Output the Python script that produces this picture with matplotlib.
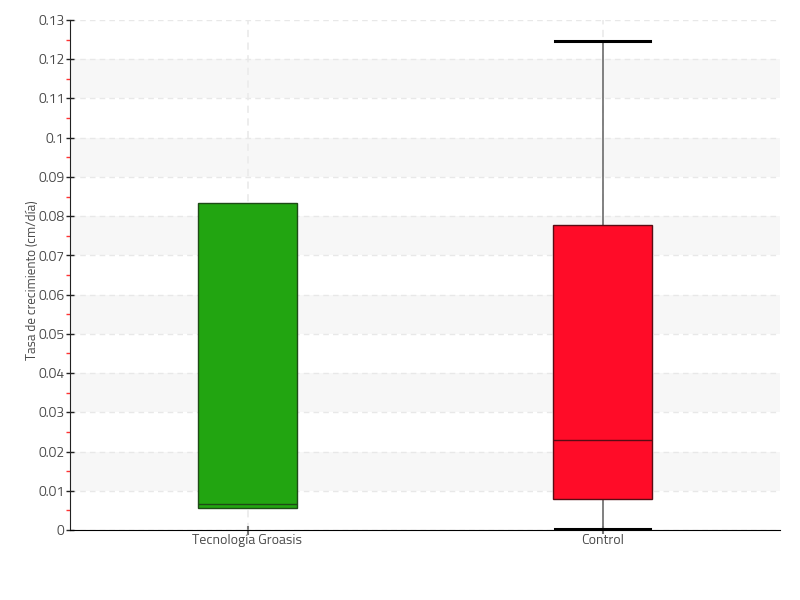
import numpy as np
import matplotlib
matplotlib.use('Agg')
import matplotlib.pyplot as plt
from matplotlib import font_manager

# ---- data ----
categories = ['Tecnología Groasis', 'Control']
q1 = [0.0056, 0.0079]
med = [0.0066, 0.0229]
q3 = [0.0834, 0.0777]
whislo = [0.0056, 0.0003]
whishi = [0.0834, 0.1246]
colors = ['#22a511', '#ff0c28']
edge_colors = ['#1e4a16', '#5a0c14']

yticks = np.round(np.arange(0, 0.131, 0.01), 2)
ytick_labels = ['0'] + ['%g' % v for v in yticks[1:]]

have = set(f.name for f in font_manager.fontManager.ttflist)
fam = [f for f in ['Titillium Web', 'Roboto Condensed', 'DejaVu Sans'] if f in have]
plt.rcParams['font.family'] = fam

fig = plt.figure(figsize=(8, 6), dpi=100)
ax = fig.add_axes([0.0875, 0.1167, 0.8875, 0.85])

stats = []
for i in range(len(categories)):
    stats.append(dict(q1=q1[i], med=med[i], q3=q3[i],
                      whislo=whislo[i], whishi=whishi[i], fliers=[]))

pos = np.arange(len(categories))
bp = ax.bxp(stats, positions=pos, widths=0.28, patch_artist=True,
            showfliers=False, manage_ticks=False)

for box, c, ec in zip(bp['boxes'], colors, edge_colors):
    box.set_facecolor(c)
    box.set_edgecolor(ec)
    box.set_linewidth(1.0)
    box.set_zorder(4)
for m, ec in zip(bp['medians'], edge_colors):
    m.set_color(ec)
    m.set_linewidth(1.0)
    m.set_zorder(5)
for w in bp['whiskers']:
    w.set_color('#777777')
    w.set_linewidth(1.3)
    w.set_zorder(3)
for i, cap in enumerate(bp['caps']):
    cap.set_color('black')
    cap.set_linewidth(2.2)
    cap.set_zorder(3)
    xd = cap.get_xdata()
    mid = (xd[0] + xd[1]) / 2.0
    cap.set_xdata([mid - 0.135, mid + 0.135])
    k = i // 2
    # no whisker when it coincides with the box edge
    if (i % 2 == 0 and whislo[k] == q1[k]) or (i % 2 == 1 and whishi[k] == q3[k]):
        cap.set_visible(False)

ax.set_xlim(-0.5, 1.5)
ax.set_ylim(0, 0.13)

# alternating bands
for k in range(1, 13, 2):
    ax.axhspan(yticks[k], yticks[k + 1], color='#f7f7f7', zorder=0, lw=0)

ax.set_yticks(yticks)
ax.set_yticklabels(ytick_labels)
ax.set_yticks(np.arange(0.005, 0.13, 0.01), minor=True)
ax.set_xticks(pos)
ax.set_xticklabels(categories)

ax.grid(True, axis='y', which='major', linestyle=(0, (4, 3)), color='#e8e8e8', lw=1, zorder=1)
ax.grid(True, axis='x', which='major', linestyle=(0, (4, 3)), color='#ececec', lw=1.3, zorder=1)
ax.set_axisbelow(True)

ax.spines['top'].set_visible(False)
ax.spines['right'].set_visible(False)
ax.spines['left'].set_color('#222222')
ax.spines['bottom'].set_color('black')

ax.tick_params(axis='y', which='major', direction='inout', length=6, width=1,
               color='#222222', labelsize=10, labelcolor='#4a4a4a', pad=1)
ax.tick_params(axis='y', which='minor', direction='out', length=3, width=1,
               color='#ff3333')
ax.tick_params(axis='x', which='major', direction='inout', length=6, width=1.5,
               color='#777777', labelsize=10, labelcolor='#4a4a4a', pad=0)

ax.set_ylabel('Tasa de crecimiento (cm/día)', fontsize=9.5, color='#4a4a4a')
ax.yaxis.set_label_coords(-0.043, 0.49)

fig.savefig('out.png', dpi=100)
